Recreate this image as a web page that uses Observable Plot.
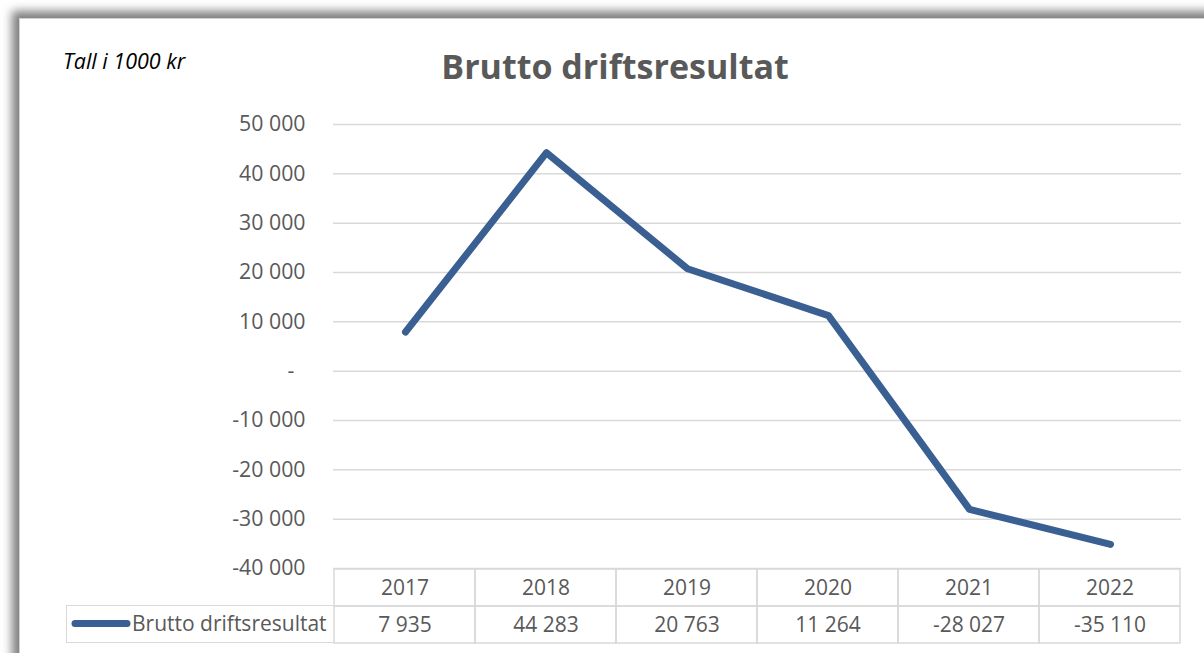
<!DOCTYPE html>
<html>
<head>
<meta charset="utf-8">
<script src="https://cdn.jsdelivr.net/npm/d3@7"></script>
<script src="https://cdn.jsdelivr.net/npm/@observablehq/plot@0.6"></script>
<style>
  html, body { margin: 0; padding: 0; background: #ffffff; }
  #wrap { position: relative; width: 1204px; height: 653px; overflow: hidden; background: #ffffff; font-family: "Open Sans", sans-serif; }
  #frame { position: absolute; left: 19px; top: 18px; width: 1300px; height: 720px; background: #ffffff;
           border-left: 1.5px solid #d0d0d0; border-top: 1.5px solid #d0d0d0;
           box-shadow: -7px -7px 9px rgba(0,0,0,0.5); }
  .abs { position: absolute; }
  #title { left: 315px; width: 600px; top: 49px; text-align: center; font-size: 34px; font-weight: 700; color: #595959; line-height: 34px; white-space: nowrap; }
  #sub { left: 63px; top: 50px; font-size: 21.5px; font-style: italic; color: #000; line-height: 22px; white-space: nowrap; }
  #legendcell { left: 66px; top: 605px; width: 267px; height: 38px; box-sizing: border-box; border: 1.5px solid #d9d9d9; border-right: none; }
  #legendcell svg { position: absolute; left: 0; top: 0; }
  #legendcell span { position: absolute; left: 65px; top: 4px; font-size: 21px; color: #595959; line-height: 26px; white-space: nowrap; }
</style>
</head>
<body>
<div id="wrap">
  <div id="frame"></div>
  <div id="sub" class="abs">Tall i 1000 kr</div>
  <div id="title" class="abs">Brutto driftsresultat</div>
  <div id="plot1" class="abs" style="left:0;top:0"></div>
  <div id="plot2" class="abs" style="left:0;top:568px"></div>
  <div id="legendcell" class="abs"></div>
</div>
<script>
// ---- data ----
const years = ["2017", "2018", "2019", "2020", "2021", "2022"];
const values = [7935, 44283, 20763, 11264, -28027, -35110];
const yTicks = [-40000, -30000, -20000, -10000, 0, 10000, 20000, 30000, 40000, 50000];
const seriesName = "Brutto driftsresultat";

const lineColor = "#3a5f92";
const textColor = "#595959";
const gridColor = "#d9d9d9";

const loc = d3.formatLocale({decimal: ",", thousands: " ", grouping: [3], currency: ["", " kr"], minus: "-"});
const fmt = loc.format(",d");
const tickFmt = d => d === 0 ? "-  " : fmt(d);

const data = years.map((y, i) => ({year: y, value: values[i]}));

const W = 1204, H = 653;
const mL = 333, mR = 23, mT = 124, plotBottom = 568;

const plot1 = Plot.plot({
  width: W,
  height: H,
  marginLeft: mL,
  marginRight: mR,
  marginTop: mT,
  marginBottom: H - plotBottom,
  style: {background: "transparent", fontFamily: "Open Sans, sans-serif", fontSize: "21.3px", color: textColor, overflow: "visible"},
  x: {type: "point", domain: years, padding: 0.5, axis: null},
  y: {domain: [-40000, 50000], ticks: yTicks, tickSize: 0, tickPadding: 28, tickFormat: tickFmt, label: null, line: false},
  marks: [
    Plot.ruleY(yTicks, {stroke: gridColor, strokeWidth: 1.5}),
    Plot.line(data, {x: "year", y: "value", stroke: lineColor, strokeWidth: 7, strokeLinecap: "round", strokeLinejoin: "round"})
  ]
});
document.getElementById("plot1").appendChild(plot1);

// data table below the chart, sharing the same x layout
const rows = ["header", "value"];
const cells = [];
years.forEach((y, i) => {
  cells.push({year: y, row: "header", label: y});
  cells.push({year: y, row: "value", label: fmt(values[i])});
});

const plot2 = Plot.plot({
  width: W,
  height: 75,
  marginLeft: mL,
  marginRight: mR,
  marginTop: 0,
  marginBottom: 0,
  style: {background: "transparent", fontFamily: "Open Sans, sans-serif", fontSize: "21px", color: textColor, overflow: "visible"},
  x: {type: "band", domain: years, padding: 0, axis: null},
  y: {type: "band", domain: rows, padding: 0, axis: null},
  marks: [
    Plot.cell(cells, {x: "year", y: "row", fill: "none", stroke: gridColor, strokeWidth: 1.5, inset: 0}),
    Plot.text(cells, {x: "year", y: "row", text: "label", fill: textColor, fontSize: 21})
  ]
});
document.getElementById("plot2").appendChild(plot2);

// legend key inside the table's first column
const lc = document.getElementById("legendcell");
const ns = "http://www.w3.org/2000/svg";
const svg = document.createElementNS(ns, "svg");
svg.setAttribute("width", 70);
svg.setAttribute("height", 38);
const ln = document.createElementNS(ns, "line");
ln.setAttribute("x1", 8); ln.setAttribute("x2", 60);
ln.setAttribute("y1", 17.5); ln.setAttribute("y2", 17.5);
ln.setAttribute("stroke", lineColor);
ln.setAttribute("stroke-width", 7);
ln.setAttribute("stroke-linecap", "round");
svg.appendChild(ln);
lc.appendChild(svg);
const sp = document.createElement("span");
sp.textContent = seriesName;
lc.appendChild(sp);
</script>
</body>
</html>
